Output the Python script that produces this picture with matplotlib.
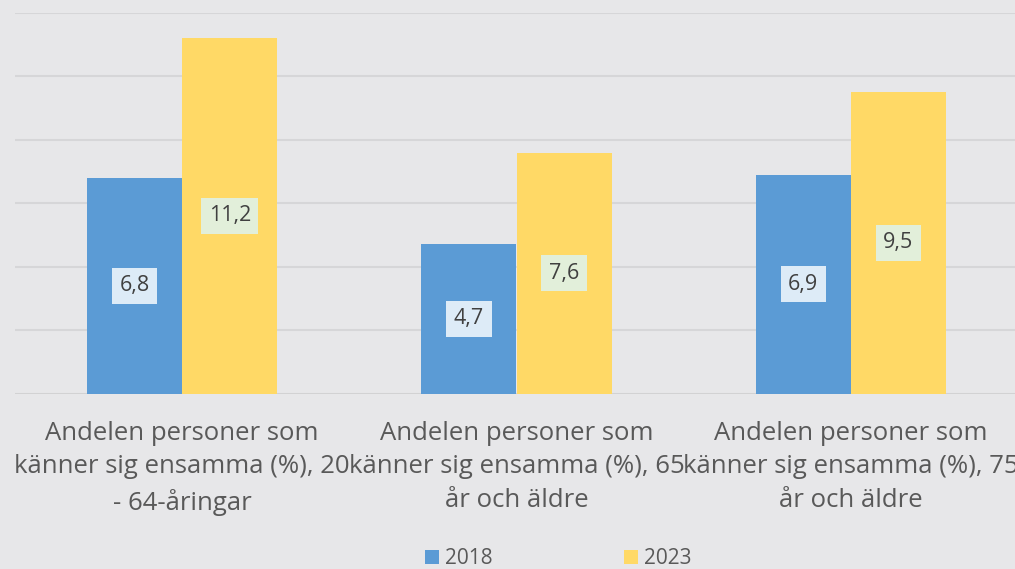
import matplotlib
matplotlib.use("Agg")
import matplotlib.pyplot as plt
import matplotlib.transforms as mtransforms
from matplotlib.patches import Patch
import numpy as np

categories = [
    "Andelen personer som\nkänner sig ensamma (%), 20\n- 64-åringar",
    "Andelen personer som\nkänner sig ensamma (%), 65\når och äldre",
    "Andelen personer som\nkänner sig ensamma (%), 75\når och äldre",
]
series_names = ["2018", "2023"]
values_2018 = [6.8, 4.7, 6.9]
values_2023 = [11.2, 7.6, 9.5]

BG = "#E7E7E9"
BLUE = "#5B9BD5"
YELLOW = "#FFD966"
GRID = "#D6D6D8"

plt.rcParams["font.family"] = ["Open Sans", "DejaVu Sans"]

W, H = 1015, 569
fig = plt.figure(figsize=(W / 100, H / 100), dpi=100, facecolor=BG)
ax = fig.add_axes([15 / W, 1 - 393.5 / H, (1018 - 15) / W, (393.5 - 13) / H])
ax.set_facecolor(BG)

x = np.arange(len(categories))
bw = 95 / 334
b1 = ax.bar(x - bw / 2, values_2018, width=bw, color=BLUE, zorder=2)
b2 = ax.bar(x + bw / 2, values_2023, width=bw, color=YELLOW, zorder=2)

ax.set_xlim(-0.5, 2.5)
ax.set_ylim(0, 12)
ax.set_yticks(np.arange(0, 13, 2))
ax.yaxis.grid(True, color=GRID, linewidth=1.5, zorder=0)
ax.set_axisbelow(True)
ax.tick_params(left=False, bottom=False, labelleft=False, labelbottom=False)
for s in ax.spines.values():
    s.set_visible(False)
ax.axhline(0, color="#D2D2D2", linewidth=1.8, zorder=1)

def fmt(v):
    return f"{v:.1f}".replace(".", ",")

for bars, vals, boxc in ((b1, values_2018, "#DDEBF7"), (b2, values_2023, "#E2EFDA")):
    for rect, v in zip(bars, vals):
        ax.text(rect.get_x() + rect.get_width() / 2, v / 2, fmt(v),
                ha="center", va="center", fontsize=15.5, color="#404040", zorder=3,
                bbox=dict(boxstyle="square,pad=0.35", facecolor=boxc, edgecolor="none"))

trans = mtransforms.blended_transform_factory(ax.transData, fig.transFigure)
for xi, lab in zip(x, categories):
    ax.text(xi, 1 - 421 / H, lab, transform=trans, ha="center", va="top",
            fontsize=18.5, color="#595959", linespacing=1.44, clip_on=False)

handles = [Patch(facecolor=BLUE, edgecolor="none"), Patch(facecolor=YELLOW, edgecolor="none")]
fig.legend(handles, series_names, loc="center", bbox_to_anchor=(558 / W, 1 - 559 / H),
           ncol=2, frameon=False, fontsize=15, labelcolor="#595959",
           handlelength=0.67, handleheight=0.67, handletextpad=0.3, columnspacing=6.3)

fig.savefig("out.png", dpi=100, facecolor=BG)
